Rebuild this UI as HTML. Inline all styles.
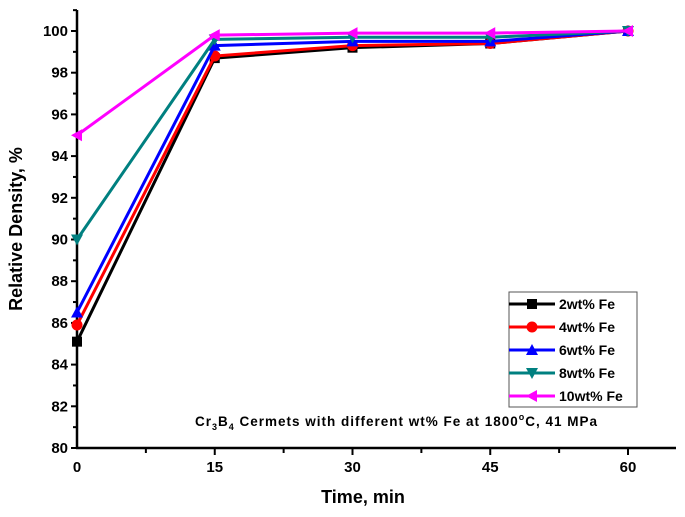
<!DOCTYPE html>
<html><head><meta charset="utf-8"><style>
body{margin:0;background:#fff;}
svg{display:block;font-family:"Liberation Sans",Arial,sans-serif;}
</style></head><body>
<svg id="chart" width="685" height="517" xmlns="http://www.w3.org/2000/svg"></svg>
<script>
const categories=[0,15,30,45,60];
const s2=[85.1,98.7,99.2,99.4,100];
const s4=[85.9,98.8,99.3,99.4,100];
const s6=[86.5,99.3,99.5,99.5,100];
const s8=[90.0,99.6,99.7,99.7,100];
const s10=[95.0,99.8,99.9,99.9,100];
const seriesNames=["2wt% Fe","4wt% Fe","6wt% Fe","8wt% Fe","10wt% Fe"];
const xTicks=[0,15,30,45,60];
const yTicks=[80,82,84,86,88,90,92,94,96,98,100];

const svg=document.getElementById('chart');
const NS="http://www.w3.org/2000/svg";
const X0=77,XPX=(628-77)/60,Y80=448,YPX=20.85;
const xs=v=>X0+v*XPX, ys=v=>Y80-(v-80)*YPX;
function mk(t,a,p){const e=document.createElementNS(NS,t);for(const k in a)e.setAttribute(k,a[k]);(p||svg).appendChild(e);return e;}
const colors=["#000000","#ff0000","#0000ff","#008080","#ff00ff"];
const shapes=["square","circle","up","down","left"];
const data=[s2,s4,s6,s8,s10];

// axes
const ax=mk('g',{});


mk('line',{x1:X0,y1:10,x2:X0,y2:Y80+1,stroke:'#000','stroke-width':2.5},ax);
mk('line',{x1:X0-1,y1:Y80,x2:676,y2:Y80,stroke:'#000','stroke-width':2.5},ax);
for(let v=80;v<=101;v++){const y=ys(v);const major=v%2===0;mk('line',{x1:X0-(major?6:4),y1:y,x2:X0,y2:y,stroke:'#000','stroke-width':2},ax);}
yTicks.forEach(v=>{const t=mk('text',{x:X0-9,y:ys(v)+5,'text-anchor':'end','font-size':15,'font-weight':'bold'},ax);t.textContent=v;
});
for(let v=7.5;v<65;v+=7.5){const x=xs(v);const major=(v%15===0);mk('line',{x1:x,y1:Y80,x2:x,y2:Y80+(major?7:5),stroke:'#000','stroke-width':2},ax);}
xTicks.forEach(v=>{const t=mk('text',{x:xs(v),y:Y80+24,'text-anchor':'middle','font-size':15,'font-weight':'bold'},ax);t.textContent=v;
});

function marker(shape,x,y,c,g){
 const r=6;
 if(shape==='square')return mk('rect',{x:x-5,y:y-5,width:10,height:10,fill:c},g);
 if(shape==='circle')return mk('circle',{cx:x,cy:y,r:5.5,fill:c},g);
 if(shape==='up')return mk('polygon',{points:`${x},${y-r} ${x-r},${y+r-1} ${x+r},${y+r-1}`,fill:c},g);
 if(shape==='down')return mk('polygon',{points:`${x},${y+r} ${x-r},${y-r+1} ${x+r},${y-r+1}`,fill:c},g);
 return mk('polygon',{points:`${x-r},${y} ${x+r-1},${y-r} ${x+r-1},${y+r}`,fill:c},g);
}
data.forEach((d,i)=>{
 const g=mk('g',{});
 
 
 mk('polyline',{points:d.map((v,j)=>xs(categories[j])+','+ys(v)).join(' '),fill:'none',stroke:colors[i],'stroke-width':3},g);
 d.forEach((v,j)=>{const m=marker(shapes[i],xs(categories[j]),ys(v),colors[i],g);
 });
});

// legend
const lg=mk('g',{});


mk('rect',{x:509,y:292,width:128,height:115,fill:'#fff',stroke:'#555','stroke-width':1},lg);
seriesNames.forEach((n,i)=>{
 const y=304+i*23;
 const e=mk('g',{},lg);
 
 
 mk('line',{x1:509,y1:y,x2:555,y2:y,stroke:colors[i],'stroke-width':3},e);
 marker(shapes[i],532,y,colors[i],e);
 const t=mk('text',{x:559,y:y+5,'font-size':14,'font-weight':'bold'},e);t.textContent=n;
});

// annotation
const an=mk('text',{x:195,y:426,'font-size':13.5,'font-weight':'bold','textLength':402});


an.innerHTML='Cr<tspan font-size="9" dy="4">3</tspan><tspan dy="-4">B</tspan><tspan font-size="9" dy="4">4</tspan><tspan dy="-4"> Cermets with different wt% Fe at 1800</tspan><tspan font-size="9" dy="-6">o</tspan><tspan dy="6">C, 41 MPa</tspan>';

const xt=mk('text',{x:363,y:503,'text-anchor':'middle','font-size':18,'font-weight':'bold'});
xt.textContent='Time, min';


const yt=mk('text',{x:0,y:0,'text-anchor':'middle','font-size':18,'font-weight':'bold',transform:'translate(22,229) rotate(-90)'});
yt.textContent='Relative Density, %';


</script>
</body></html>
